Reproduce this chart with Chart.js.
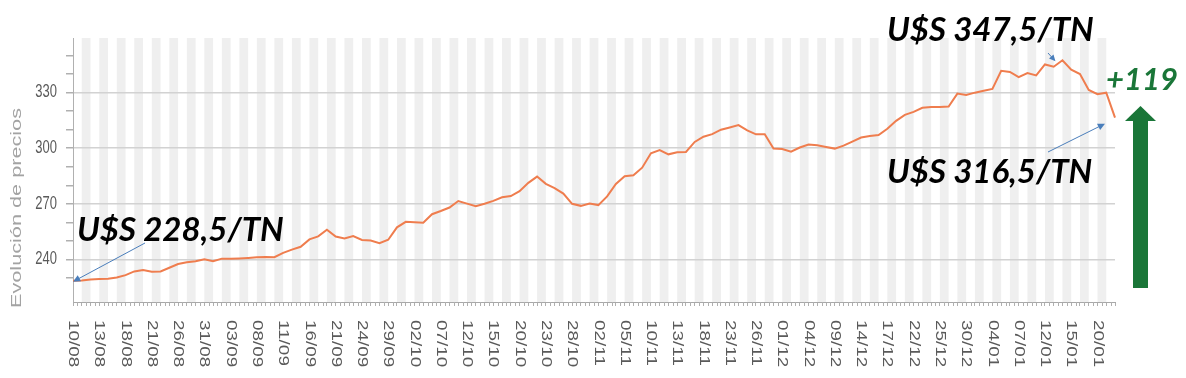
<!DOCTYPE html>
<html>
<head>
<meta charset="utf-8">
<script src="https://cdn.jsdelivr.net/npm/chart.js@4/dist/chart.umd.min.js"></script>
<style>
  html, body { margin: 0; padding: 0; background: #fff; }
  #wrap { width: 1186px; height: 378px; position: relative; }
</style>
</head>
<body>
<div id="wrap"><canvas id="chart"></canvas></div>
<script>
// ── Datos ──
const tickLabels = ['10/08','13/08','18/08','21/08','26/08','31/08','03/09','08/09','11/09','16/09',
  '21/09','24/09','29/09','02/10','07/10','12/10','15/10','20/10','23/10','28/10',
  '02/11','05/11','10/11','13/11','18/11','23/11','26/11','01/12','04/12','09/12',
  '14/12','17/12','22/12','25/12','30/12','04/01','07/01','12/01','15/01','20/01'];

const prices = [
  228.5, 228.6, 229.1, 229.4, 229.5, 230.2, 231.5, 233.5, 234.3, 233.3,
  233.5, 235.5, 237.5, 238.5, 239.0, 240.0, 239.0, 240.4, 240.3, 240.5,
  240.8, 241.2, 241.3, 241.2, 243.5, 245.3, 246.8, 250.8, 252.4, 256.0,
  252.3, 251.3, 252.6, 250.5, 250.2, 248.8, 250.6, 257.3, 260.3, 260.0,
  259.8, 264.4, 266.1, 268.0, 271.5, 270.1, 268.7, 270.0, 271.6, 273.5,
  274.2, 276.8, 281.3, 284.7, 280.8, 278.5, 275.5, 270.0, 268.9, 270.1,
  269.3, 274.0, 280.7, 284.9, 285.4, 289.5, 297.3, 299.0, 296.7, 297.8,
  298.0, 303.4, 306.2, 307.6, 310.0, 311.2, 312.5, 309.6, 307.5, 307.5,
  299.8, 299.6, 298.1, 300.4, 302.0, 301.6, 300.7, 299.8, 301.4, 303.6,
  305.8, 306.6, 307.1, 310.5, 314.8, 318.0, 319.6, 321.8, 322.3, 322.3,
  322.5, 329.5, 328.8, 330.0, 331.0, 332.0, 341.8, 341.2, 338.4, 340.6,
  339.3, 345.2, 344.0, 347.5, 342.4, 340.0, 331.5, 329.2, 330.0, 316.5
];

const yLabelValues = [240, 270, 300, 330];
const axisTitle = 'Evolución de precios';
const noteStart = 'U$S 228,5/TN';
const noteMax = 'U$S 347,5/TN';
const noteEnd = 'U$S 316,5/TN';
const noteDiff = '+119';

// ── Estilos ──
const LINE = '#ef7d4e';
const GREEN = '#1a7638';
const BLUE = '#4a7ebb';
const STRETCH = 1.35; // el texto de los ejes está estirado verticalmente en el original

function arrow(ctx, x0, y0, x1, y1, head) {
    const ang = Math.atan2(y1 - y0, x1 - x0);
    ctx.beginPath();
    ctx.moveTo(x0, y0);
    ctx.lineTo(x1 - Math.cos(ang) * head * 0.8, y1 - Math.sin(ang) * head * 0.8);
    ctx.stroke();
    ctx.beginPath();
    ctx.moveTo(x1, y1);
    ctx.lineTo(x1 - head * Math.cos(ang - 0.45), y1 - head * Math.sin(ang - 0.45));
    ctx.lineTo(x1 - head * Math.cos(ang + 0.45), y1 - head * Math.sin(ang + 0.45));
    ctx.closePath();
    ctx.fill();
}

const decor = {
    id: 'decor',
    beforeDraw(chart) {
        const { ctx, chartArea: a, scales: { x } } = chart;
        ctx.save();
        ctx.fillStyle = '#fff';
        ctx.fillRect(0, 0, chart.width, chart.height);
        // bandas verticales alternas
        ctx.fillStyle = '#efefef';
        for (let j = 1; j + 1 < prices.length; j += 2) {
            const x0 = x.getPixelForValue(j), x1 = x.getPixelForValue(j + 1);
            ctx.fillRect(x0, a.top, x1 - x0, a.bottom - a.top);
        }
        ctx.restore();
    },
    afterDraw(chart) {
        const { ctx, chartArea: a, scales: { x, y } } = chart;
        ctx.save();

        // marcas intermedias del eje x
        ctx.strokeStyle = '#b0b0b0';
        ctx.lineWidth = 1;
        ctx.beginPath();
        for (let j = 0; j + 1 < prices.length; j++) {
            const xm = Math.round((x.getPixelForValue(j) + x.getPixelForValue(j + 1)) / 2) + 0.5;
            ctx.moveTo(xm, a.bottom);
            ctx.lineTo(xm, a.bottom + 4);
        }
        ctx.stroke();

        // etiquetas del eje x (giradas, de arriba hacia abajo)
        ctx.fillStyle = '#5a5a5a';
        ctx.font = '14px "Liberation Sans", Arial, sans-serif';
        ctx.textAlign = 'left';
        ctx.textBaseline = 'middle';
        tickLabels.forEach((lab, k) => {
            const px = x.getPixelForValue(k * 3);
            ctx.save();
            ctx.translate(px, a.bottom + 18);
            ctx.rotate(Math.PI / 2);
            ctx.scale(STRETCH, 1);
            ctx.fillText(lab, 0, 0);
            ctx.restore();
        });

        // etiquetas del eje y
        ctx.font = '13px "Liberation Sans", Arial, sans-serif';
        ctx.textAlign = 'right';
        yLabelValues.forEach(v => {
            const py = y.getPixelForValue(v);
            ctx.save();
            ctx.translate(a.left - 16, py);
            ctx.scale(1, STRETCH);
            ctx.fillText(String(v), 0, 0);
            ctx.restore();
        });

        // título del eje y
        ctx.fillStyle = '#a3a3a3';
        ctx.font = '14px "Liberation Sans", Arial, sans-serif';
        ctx.textAlign = 'left';
        ctx.save();
        ctx.translate(17, a.bottom + 6);
        ctx.rotate(-Math.PI / 2);
        ctx.scale(200 / ctx.measureText(axisTitle).width, 1);
        ctx.fillText(axisTitle, 0, 0);
        ctx.restore();

        // flechas azules
        ctx.strokeStyle = BLUE;
        ctx.fillStyle = BLUE;
        ctx.lineWidth = 1;
        const last = prices.length - 1;
        const peak = prices.indexOf(Math.max(...prices));
        arrow(ctx, 145, 243, x.getPixelForValue(0), y.getPixelForValue(prices[0]) + 1, 8);
        arrow(ctx, 1048, 152, x.getPixelForValue(last) - 10, y.getPixelForValue(prices[last]) + 6, 8);
        arrow(ctx, 1048, 53, x.getPixelForValue(peak) - 7, y.getPixelForValue(prices[peak]) + 1, 7);

        // textos
        ctx.fillStyle = '#000';
        ctx.font = 'italic bold 33px Lato, "Open Sans", sans-serif';
        ctx.textAlign = 'left';
        ctx.textBaseline = 'alphabetic';
        ctx.fillText(noteStart, 77, 241);
        ctx.fillText(noteMax, 887, 41);
        ctx.fillText(noteEnd, 887, 183);
        ctx.fillStyle = GREEN;
        ctx.font = 'italic bold 31px Lato, "Open Sans", sans-serif';
        ctx.fillText(noteDiff, 1106, 90);

        // flecha verde
        ctx.fillRect(1133, 119, 15, 169);
        ctx.beginPath();
        ctx.moveTo(1125, 121);
        ctx.lineTo(1156, 121);
        ctx.lineTo(1140.5, 106);
        ctx.closePath();
        ctx.fill();

        ctx.restore();
    }
};

new Chart(document.getElementById('chart'), {
    type: 'line',
    data: {
        labels: prices.map((_, i) => i),
        datasets: [{
            data: prices,
            borderColor: LINE,
            borderWidth: 2,
            pointRadius: 0,
            tension: 0,
            fill: false
        }]
    },
    options: {
        responsive: true,
        maintainAspectRatio: false,
        animation: false,
        layout: { padding: { top: 38, right: 71, left: 0, bottom: 0 } },
        plugins: { legend: { display: false }, tooltip: { enabled: false } },
        scales: {
            x: {
                type: 'category',
                offset: false,
                afterFit: s => { s.height = 76; },
                ticks: { display: false, autoSkip: false },
                grid: { display: true, drawOnChartArea: false, tickLength: 4, tickColor: '#b0b0b0' },
                border: { color: '#a8a8a8', width: 1 }
            },
            y: {
                min: 217,
                max: 359.5,
                afterFit: s => { s.width = 73; },
                afterBuildTicks: s => { s.ticks = s.ticks.filter(t => t.value % 10 === 0); },
                ticks: { display: false, stepSize: 10 },
                grid: {
                    color: c => (c.tick && c.tick.value % 30 === 0) ? '#d2d2d2' : 'rgba(0,0,0,0)',
                    lineWidth: 1.5,
                    tickLength: 7,
                    tickColor: '#b0b0b0'
                },
                border: { color: '#b0b0b0', width: 1 }
            }
        }
    },
    plugins: [decor]
});
</script>
</body>
</html>
